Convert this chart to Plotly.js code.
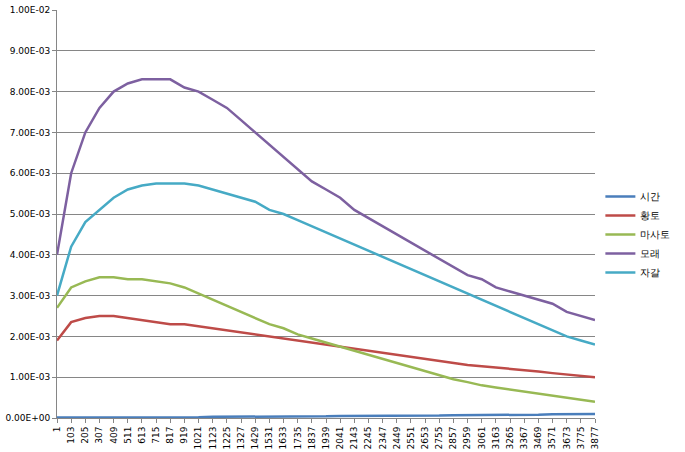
<!DOCTYPE html>
<html>
<head>
<meta charset="utf-8">
<script src="https://cdn.plot.ly/plotly-3.0.1.min.js"></script>
<style>body{margin:0;background:#fff}#chart{width:685px;height:452px}</style>
</head>
<body>
<div id="chart"></div>
<script>
// x categories (sample index, one per axis label)
const samples = [];
for (let s = 1; s <= 3877; s += 102) samples.push(String(s));

// values, in units of 1e-3
const sigan   = [0.01,0.01,0.01,0.01,0.01,0.01,0.02,0.02,0.02,0.02,0.02,0.03,0.03,0.03,0.03,0.03,0.04,0.04,0.04,0.04,0.05,0.05,0.05,0.05,0.06,0.06,0.06,0.06,0.07,0.07,0.07,0.08,0.08,0.08,0.08,0.09,0.09,0.09,0.1];
const hwangto = [1.9,2.35,2.45,2.5,2.5,2.45,2.4,2.35,2.3,2.3,2.25,2.2,2.15,2.1,2.05,2.0,1.95,1.9,1.85,1.8,1.75,1.7,1.65,1.6,1.55,1.5,1.45,1.4,1.35,1.3,1.27,1.24,1.2,1.17,1.14,1.1,1.07,1.04,1.0];
const masato  = [2.7,3.2,3.35,3.45,3.45,3.4,3.4,3.35,3.3,3.2,3.05,2.9,2.75,2.6,2.45,2.3,2.2,2.05,1.95,1.85,1.75,1.65,1.55,1.45,1.35,1.25,1.15,1.05,0.95,0.88,0.8,0.75,0.7,0.65,0.6,0.55,0.5,0.45,0.4];
const morae   = [4.0,6.0,7.0,7.6,8.0,8.2,8.3,8.3,8.3,8.1,8.0,7.8,7.6,7.3,7.0,6.7,6.4,6.1,5.8,5.6,5.4,5.1,4.9,4.7,4.5,4.3,4.1,3.9,3.7,3.5,3.4,3.2,3.1,3.0,2.9,2.8,2.6,2.5,2.4];
const jagal   = [3.0,4.2,4.8,5.1,5.4,5.6,5.7,5.75,5.75,5.75,5.7,5.6,5.5,5.4,5.3,5.1,5.0,4.85,4.7,4.55,4.4,4.25,4.1,3.95,3.8,3.65,3.5,3.35,3.2,3.05,2.9,2.75,2.6,2.45,2.3,2.15,2.0,1.9,1.8];

const names  = ['시간','황토','마사토','모래','자갈'];
const colors = ['#4A7EBB','#BE4B48','#98B954','#7D60A0','#46AAC5'];
const series = [sigan, hwangto, masato, morae, jagal];

const yTicks = [];
const yLabels = [];
for (let i = 0; i <= 10; i++) {
  yTicks.push(i / 1000);
  yLabels.push(i === 0 ? '0.00E+00' : i === 10 ? '1.00E-02' : i.toFixed(2) + 'E-03');
}

const traces = series.map((vals, i) => ({
  type: 'scatter',
  mode: 'lines',
  name: names[i],
  x: samples,
  y: vals.map(v => v / 1000),
  line: { color: colors[i], width: 2.5 }
}));

const layout = {
  width: 685,
  height: 452,
  margin: { l: 57, r: 78, t: 10, b: 34 },
  paper_bgcolor: '#fff',
  plot_bgcolor: '#fff',
  font: { family: 'DejaVu Sans, sans-serif', size: 9, color: '#000' },
  showlegend: true,
  legend: { x: 1.01, y: 0.45, yanchor: 'middle', font: { size: 10 }, tracegroupgap: 4 },
  xaxis: {
    type: 'category',
    tickangle: -90,
    showgrid: false,
    showline: true,
    linecolor: '#868686',
    ticks: 'outside',
    ticklen: 4,
    tickcolor: '#868686',
    tickfont: { size: 9 }
  },
  yaxis: {
    range: [0, 0.01],
    tickvals: yTicks,
    ticktext: yLabels,
    showgrid: true,
    gridcolor: '#868686',
    gridwidth: 1,
    showline: true,
    linecolor: '#868686',
    zeroline: false,
    ticks: 'outside',
    ticklen: 4,
    tickcolor: '#868686'
  }
};

Plotly.newPlot('chart', traces, layout, { displayModeBar: false, staticPlot: true });
</script>
</body>
</html>
